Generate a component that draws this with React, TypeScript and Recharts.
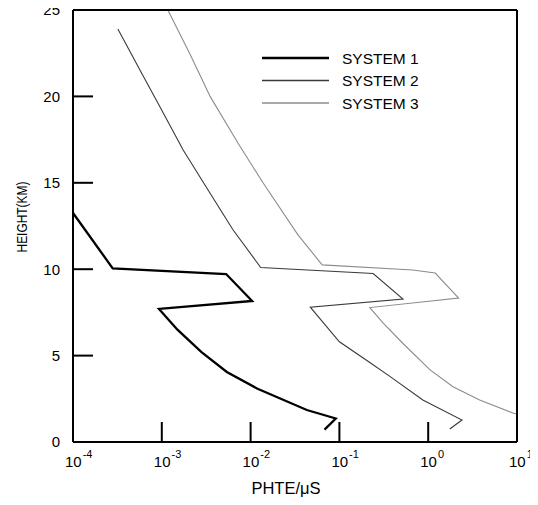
import React from 'react';
import { LineChart, Line, XAxis, YAxis, Legend, Customized } from 'recharts';

const FONT = '"Liberation Sans", Arial, Helvetica, sans-serif';

const xTicks = [1e-4, 1e-3, 1e-2, 1e-1, 1, 10];
const yTicks = [0, 5, 10, 15, 20, 25];
const seriesNames = ['SYSTEM 1', 'SYSTEM 2', 'SYSTEM 3'];
const xTitle = 'PHTE/\u03bcS';
const yTitle = 'HEIGHT(KM)';

const system1 = [
  { x: 1e-4, y: 13.25 },
  { x: 2.8e-4, y: 10.05 },
  { x: 5.3e-3, y: 9.72 },
  { x: 1.04e-2, y: 8.16 },
  { x: 9.3e-4, y: 7.7 },
  { x: 1.5e-3, y: 6.5 },
  { x: 2.8e-3, y: 5.2 },
  { x: 5.4e-3, y: 4.05 },
  { x: 1.18e-2, y: 3.1 },
  { x: 4.3e-2, y: 1.85 },
  { x: 9.1e-2, y: 1.36 },
  { x: 6.8e-2, y: 0.72 },
];

const system2 = [
  { x: 3.2e-4, y: 23.9 },
  { x: 6.0e-4, y: 21.3 },
  { x: 1.0e-3, y: 19.2 },
  { x: 1.74e-3, y: 16.9 },
  { x: 3.4e-3, y: 14.5 },
  { x: 6.3e-3, y: 12.3 },
  { x: 1.3e-2, y: 10.1 },
  { x: 0.24, y: 9.75 },
  { x: 0.52, y: 8.27 },
  { x: 0.047, y: 7.8 },
  { x: 0.1, y: 5.8 },
  { x: 0.22, y: 4.6 },
  { x: 0.37, y: 3.8 },
  { x: 0.87, y: 2.43 },
  { x: 2.4, y: 1.27 },
  { x: 1.75, y: 0.75 },
];

const system3 = [
  { x: 1.17e-3, y: 25 },
  { x: 2.1e-3, y: 22.4 },
  { x: 3.5e-3, y: 20.0 },
  { x: 7.2e-3, y: 17.3 },
  { x: 1.38e-2, y: 15.0 },
  { x: 3.4e-2, y: 12.0 },
  { x: 0.064, y: 10.25 },
  { x: 0.67, y: 9.95 },
  { x: 1.2, y: 9.78 },
  { x: 2.2, y: 8.33 },
  { x: 0.22, y: 7.78 },
  { x: 0.31, y: 6.9 },
  { x: 0.52, y: 5.7 },
  { x: 1.05, y: 4.17 },
  { x: 1.9, y: 3.2 },
  { x: 3.8, y: 2.43 },
  { x: 9.0, y: 1.68 },
  { x: 10, y: 1.6 },
];

const seriesData = [system1, system2, system3];
const seriesColors = ['#000000', '#3a3a3a', '#8c8c8c'];
const seriesWidths = [2.3, 1.1, 1.1];

const XTick = (props: any) => {
  const { x, y, payload } = props;
  const exp = Math.round(Math.log10(payload.value));
  return (
    <text x={x - 8} y={y + 25} fontFamily={FONT} fontSize={15} fill="#000" textAnchor="start">
      <tspan>10</tspan>
      <tspan dx={1} dy={-9} fontSize={11}>{String(exp)}</tspan>
    </text>
  );
};

const YTick = (props: any) => {
  const { x, y, payload } = props;
  return (
    <text x={x} y={y} dy="0.36em" fontFamily={FONT} fontSize={15} fill="#000" textAnchor="end">
      {payload.value}
    </text>
  );
};

const renderLegend = () => (
  <svg width={200} height={75} style={{ display: 'block' }}>
    {seriesNames.map((name, i) => (
      <g key={name}>
        <line x1={7} x2={74} y1={13 + i * 22.5} y2={13 + i * 22.5} stroke={seriesColors[i]} strokeWidth={i === 0 ? 2.3 : 1.3} />
        <text x={87} y={13 + i * 22.5} dy="0.36em" fontFamily={FONT} fontSize={15.5} fill="#000">
          {name}
        </text>
      </g>
    ))}
  </svg>
);

const Titles = () => (
  <g>
    <text
      x={22}
      y={217}
      transform="rotate(-90 22 217)"
      textAnchor="middle"
      dy="0.36em"
      fontFamily={FONT}
      fontSize={14}
      textLength={71}
      lengthAdjust="spacingAndGlyphs"
      fill="#000"
    >
      {yTitle}
    </text>
    <text x={286} y={494} textAnchor="middle" fontFamily={FONT} fontSize={16.5} fill="#000">
      {xTitle}
    </text>
  </g>
);

export default function App() {
  return (
    <div style={{ position: 'relative', left: -8, top: -8, width: 538, height: 505, background: '#fff' }}>
      <LineChart width={538} height={505} margin={{ top: 9, right: 20, bottom: 33, left: 13 }}>
        <XAxis
          xAxisId="bottom"
          dataKey="x"
          type="number"
          scale="log"
          domain={[1e-4, 10]}
          ticks={xTicks}
          allowDataOverflow
          orientation="bottom"
          height={30}
          tickSize={-20}
          tickMargin={20}
          tick={<XTick />}
          axisLine={{ stroke: '#000', strokeWidth: 2 }}
          tickLine={{ stroke: '#000', strokeWidth: 2 }}
          interval={0}
        />
        <XAxis
          xAxisId="top"
          dataKey="x"
          type="number"
          scale="log"
          domain={[1e-4, 10]}
          ticks={xTicks}
          allowDataOverflow
          orientation="top"
          height={1}
          tickSize={-20}
          tick={false}
          axisLine={{ stroke: '#000', strokeWidth: 2 }}
          tickLine={{ stroke: '#000', strokeWidth: 2 }}
          interval={0}
        />
        <YAxis
          yAxisId="left"
          dataKey="y"
          type="number"
          domain={[0, 25]}
          ticks={yTicks}
          allowDataOverflow
          orientation="left"
          width={60}
          tickSize={-20}
          tickMargin={33}
          tick={<YTick />}
          axisLine={{ stroke: '#000', strokeWidth: 2 }}
          tickLine={{ stroke: '#000', strokeWidth: 2 }}
          interval={0}
        />
        <YAxis
          yAxisId="right"
          dataKey="y"
          type="number"
          domain={[0, 25]}
          ticks={yTicks}
          allowDataOverflow
          orientation="right"
          width={1}
          tickSize={-20}
          tick={false}
          axisLine={{ stroke: '#000', strokeWidth: 2 }}
          tickLine={{ stroke: '#000', strokeWidth: 2 }}
          interval={0}
        />
        {seriesData.map((d, i) => (
          <Line
            key={seriesNames[i]}
            name={seriesNames[i]}
            data={d}
            dataKey="y"
            xAxisId="bottom"
            yAxisId="left"
            type="linear"
            stroke={seriesColors[i]}
            strokeWidth={seriesWidths[i]}
            dot={false}
            activeDot={false}
            isAnimationActive={false}
          />
        ))}
        <Legend
          layout="vertical"
          align="center"
          verticalAlign="middle"
          content={renderLegend}
          wrapperStyle={{ top: 45, left: 255, width: 200, height: 75 }}
        />
        <Customized component={Titles} />
      </LineChart>
    </div>
  );
}
